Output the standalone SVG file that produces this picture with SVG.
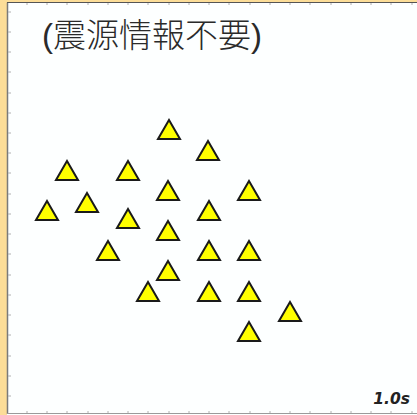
<svg xmlns="http://www.w3.org/2000/svg" width="417" height="415" viewBox="0 0 417 415">
<defs>
<style>
.tri{fill:#FFFF00;stroke:#1a1a1a;stroke-width:2;stroke-linejoin:miter}
.tick{stroke:#b0b0b0;stroke-width:1}
.title{font-family:"Liberation Sans","Noto Sans CJK JP",sans-serif;font-size:33px;font-weight:300;fill:#2a2a2a}
.time{font-family:"DejaVu Sans","Liberation Sans",sans-serif;font-size:15.5px;font-weight:bold;font-style:italic;fill:#222}
</style>
<path id="t" d="M0,-10 L11,9 L-11,9 Z"/>
</defs>
<rect x="0" y="0" width="417" height="415" fill="#FDFFFF"/>
<rect x="0" y="0" width="7" height="415" fill="#FCDD98"/>
<rect x="0" y="0" width="417" height="2" fill="#FCDD98"/>
<g id="frame">
<line x1="7.5" y1="2.5" x2="7.5" y2="414" stroke="#7a7a7a" stroke-width="1.5"/>
<line x1="7" y1="2.5" x2="417" y2="2.5" stroke="#555" stroke-width="1.2"/>
<line x1="7" y1="413.5" x2="417" y2="413.5" stroke="#9a9a9a" stroke-width="1"/>
<g class="tick">
<path d="M8,12h3M8,32h3M8,52h3M8,72h3M8,93h3M8,113h3M8,133h3M8,153h3M8,173h3M8,194h3M8,214h3M8,234h3M8,254h3M8,275h3M8,295h3M8,315h3M8,335h3M8,356h3M8,376h3M8,396h3"/>
<path d="M27,3v2M47,3v2M67,3v2M88,3v2M108,3v2M128,3v2M148,3v2M169,3v2M189,3v2M209,3v2M229,3v2M250,3v2M270,3v2M290,3v2M310,3v2M331,3v2M351,3v2M371,3v2M391,3v2M412,3v2"/>
<path d="M27,413v-2M47,413v-2M67,413v-2M88,413v-2M108,413v-2M128,413v-2M148,413v-2M169,413v-2M189,413v-2M209,413v-2M229,413v-2M250,413v-2M270,413v-2M290,413v-2M310,413v-2M331,413v-2M351,413v-2M371,413v-2M391,413v-2M412,413v-2"/>
</g>
</g>
<text class="title" x="42" y="47">(震源情報不要)</text>
<g id="stations">
<use href="#t" class="tri" x="169" y="130"/>
<use href="#t" class="tri" x="208" y="151"/>
<use href="#t" class="tri" x="67" y="171"/>
<use href="#t" class="tri" x="128" y="171"/>
<use href="#t" class="tri" x="168" y="191"/>
<use href="#t" class="tri" x="249" y="191"/>
<use href="#t" class="tri" x="47" y="211"/>
<use href="#t" class="tri" x="87" y="203"/>
<use href="#t" class="tri" x="128" y="219"/>
<use href="#t" class="tri" x="209" y="211"/>
<use href="#t" class="tri" x="168" y="231"/>
<use href="#t" class="tri" x="108" y="251"/>
<use href="#t" class="tri" x="209" y="251"/>
<use href="#t" class="tri" x="249" y="251"/>
<use href="#t" class="tri" x="168" y="271"/>
<use href="#t" class="tri" x="148" y="292"/>
<use href="#t" class="tri" x="209" y="292"/>
<use href="#t" class="tri" x="249" y="292"/>
<use href="#t" class="tri" x="290" y="312"/>
<use href="#t" class="tri" x="249" y="332"/>
</g>
<text class="time" x="410" y="404" text-anchor="end">1.0s</text>
</svg>
